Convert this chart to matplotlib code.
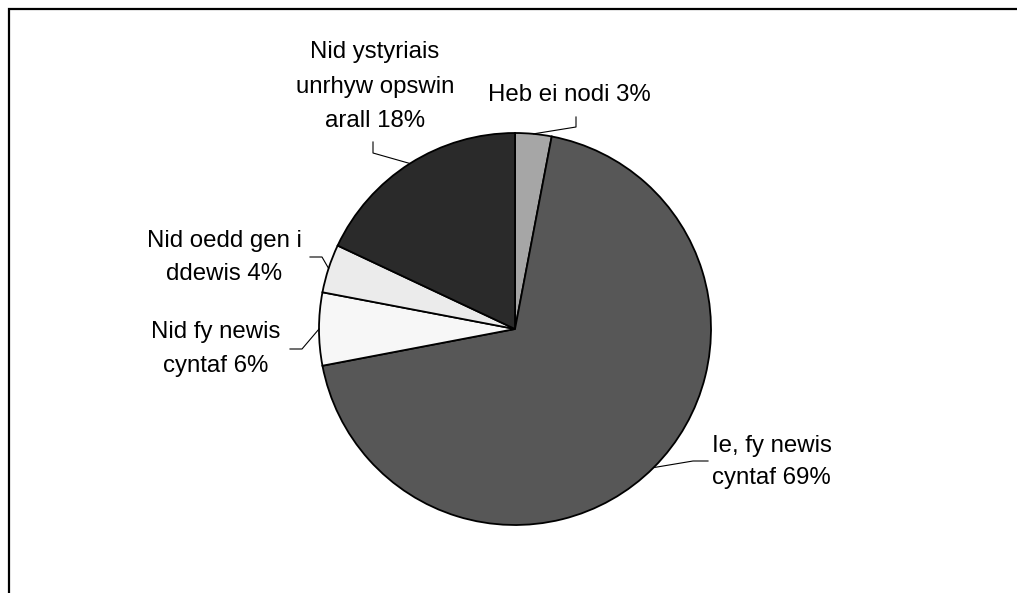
import matplotlib
matplotlib.use("Agg")
import matplotlib.pyplot as plt
import numpy as np

# ---- data ----
categories = ["Heb ei nodi", "Ie, fy newis\ncyntaf", "Nid fy newis\ncyntaf",
              "Nid oedd gen i\nddewis", "Nid ystyriais\nunrhyw opswin\narall"]
values = [3, 69, 6, 4, 18]
colors = ["#A6A6A6", "#575757", "#F7F7F7", "#EBEBEB", "#2A2A2A"]

W, H = 1017, 593
fig = plt.figure(figsize=(W / 100, H / 100), dpi=100)
ax = fig.add_axes([0, 0, 1, 1])

def Y(y):
    return H - y

cx, cy, r = 515, Y(329), 196
wedges, _ = ax.pie(values, colors=colors, startangle=90, counterclock=False,
                   center=(cx, cy), radius=r,
                   wedgeprops=dict(edgecolor="black", linewidth=1.3))
ax.set_xlim(0, W)
ax.set_ylim(0, H)
ax.set_aspect("equal")
ax.axis("off")

# frame (clipped by figure edges)
ax.plot([9, 9, W + 5], [Y(H + 5), Y(9), Y(9)], color="black", lw=1.6,
        solid_joinstyle="miter", clip_on=False)

# label layout: (text lines anchor x, baselines, ha, leader start points)
layout = [
    dict(x=569, ys=[101], ha="center", lead=[(576, 117), (576, 127)]),
    dict(x=712, ys=[452, 484], ha="left", lead=[(708, 461), (693, 461)]),
    dict(x=216, ys=[338, 372], ha="center", lead=[(290, 349), (302, 349)]),
    dict(x=224, ys=[247, 280], ha="center", lead=[(310, 257), (322, 257)]),
    dict(x=375, ys=[58, 93, 127], ha="center", lead=[(373, 142), (373, 153)]),
]

font = dict(family=["Liberation Sans", "DejaVu Sans"], size=17.3, color="black")

for w, cat, val, lay in zip(wedges, categories, values, layout):
    lines = (cat + " " + f"{val}%").split("\n")
    for line, yb in zip(lines, lay["ys"]):
        ax.text(lay["x"], Y(yb), line, ha=lay["ha"], va="baseline", **font)
    th = np.deg2rad((w.theta1 + w.theta2) / 2)
    ex, ey = cx + r * np.cos(th), cy + r * np.sin(th)
    xs = [p[0] for p in lay["lead"]] + [ex]
    ys = [Y(p[1]) for p in lay["lead"]] + [ey]
    ax.plot(xs, ys, color="black", lw=0.8)

fig.savefig("out.png", dpi=100, facecolor="white")
